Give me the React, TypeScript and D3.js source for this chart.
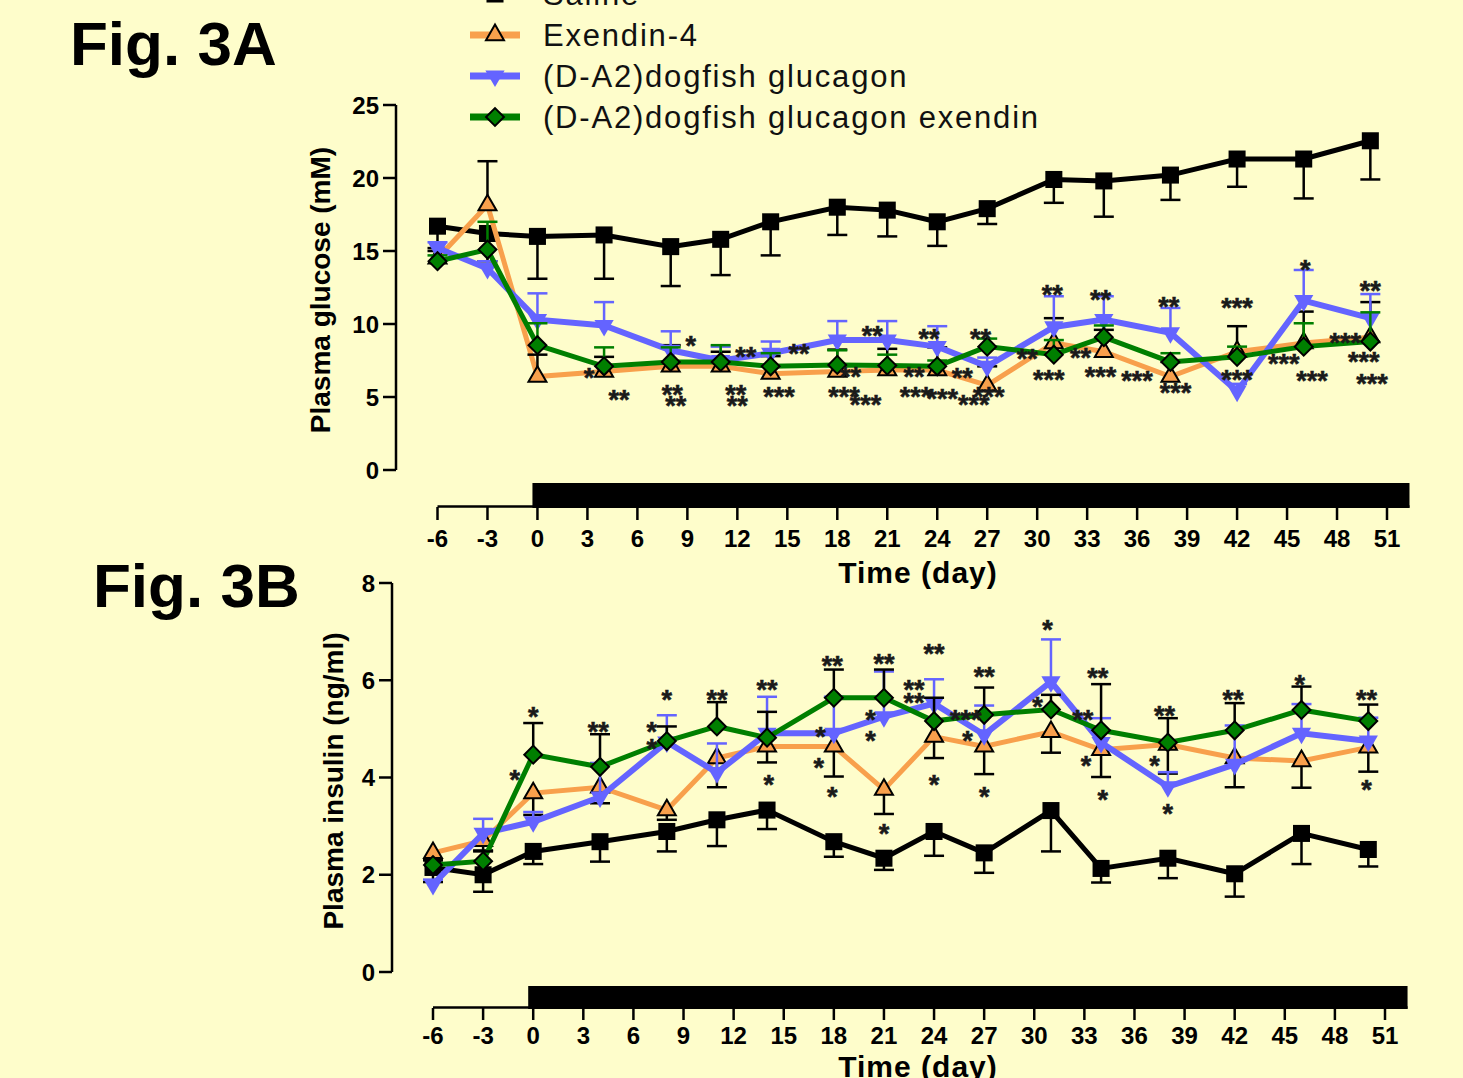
import React from "react";
import * as d3 from "d3";

// ---------------- data ----------------
const days = [-6, -3, 0, 4, 8, 11, 14, 18, 21, 24, 27, 31, 34, 38, 42, 46, 50];
const xTickValues = d3.range(-6, 52, 3);
const seriesNames = [
  "Saline",
  "Exendin-4",
  "(D-A2)dogfish glucagon",
  "(D-A2)dogfish glucagon exendin",
];
const treatmentPeriod = [-0.3, 52.35];

// Fig 3A – plasma glucose (mM)
const glucoseTicks = [0, 5, 10, 15, 20, 25];
const glucoseSaline = [16.7, 16.2, 16.0, 16.1, 15.3, 15.8, 17.0, 18.0, 17.8, 17.0, 17.9, 19.9, 19.8, 20.2, 21.3, 21.3, 22.55];
const glucoseSalineSem = [1.5, 1.9, 2.9, 3.0, 2.7, 2.45, 2.3, 1.9, 1.8, 1.65, 1.05, 1.6, 2.45, 1.7, 1.9, 2.7, 2.65];
const glucoseExendin = [14.5, 18.15, 6.4, 6.75, 7.1, 7.1, 6.6, 6.75, 6.85, 6.85, 5.8, 8.7, 8.1, 6.4, 8.1, 8.7, 9.1];
const glucoseExendinSem = [0.5, 3.0, 1.5, 1.0, 1.45, 1.0, 1.2, 1.5, 1.45, 1.55, 1.3, 1.7, 1.5, 1.0, 1.75, 2.15, 2.4];
const glucoseDogfish = [15.2, 13.8, 10.3, 9.9, 8.2, 7.5, 8.0, 8.9, 8.9, 8.45, 7.1, 9.8, 10.3, 9.4, 5.4, 11.6, 10.4];
const glucoseDogfishSem = [0.4, 0.5, 1.8, 1.6, 1.3, 0.95, 0.8, 1.3, 1.3, 1.4, 0.6, 2.1, 1.6, 1.7, 0.5, 2.1, 1.65];
const glucoseCombo = [14.3, 15.1, 8.55, 7.1, 7.4, 7.4, 7.1, 7.2, 7.15, 7.1, 8.45, 7.9, 9.1, 7.4, 7.75, 8.45, 8.8];
const glucoseComboSem = [0.4, 1.9, 1.5, 1.3, 1.0, 1.15, 0.9, 1.0, 0.75, 0.4, 0.55, 1.0, 0.8, 0.6, 0.7, 1.6, 2.0];

// significance marks: [label, day, value]
const glucoseStars: [string, number, number][] = [
  ["*", 9.2, 9.0], ["**", 12.5, 8.3], ["**", 15.7, 8.5], ["**", 20.1, 9.7], ["**", 23.5, 9.5],
  ["**", 26.6, 9.5], ["**", 30.9, 12.5], ["**", 33.8, 12.2], ["**", 37.9, 11.7], ["***", 42.0, 11.6],
  ["*", 46.1, 14.2], ["**", 50.0, 12.8],
  ["*", 3.1, 6.8], ["**", 29.4, 8.1], ["**", 32.6, 8.2], ["***", 48.5, 9.2], ["***", 44.8, 7.8],
  ["***", 49.6, 7.9], ["**", 18.8, 6.9], ["**", 22.6, 6.9], ["**", 25.5, 6.8],
  ["**", 4.9, 5.3], ["**", 8.1, 5.7], ["**", 8.3, 4.9], ["**", 11.9, 5.7], ["**", 12.0, 4.9],
  ["***", 14.5, 5.5], ["***", 18.4, 5.5], ["***", 19.7, 5.0], ["***", 22.7, 5.5], ["***", 24.3, 5.4],
  ["***", 26.2, 5.0], ["***", 27.1, 5.5], ["***", 30.7, 6.7], ["***", 33.8, 6.9], ["***", 36.0, 6.6],
  ["***", 38.3, 5.8], ["***", 42.0, 6.7], ["***", 46.5, 6.6], ["***", 50.1, 6.4],
];

// Fig 3B – plasma insulin (ng/ml)
const insulinTicks = [0, 2, 4, 6, 8];
const insulinSaline = [2.15, 2.0, 2.48, 2.68, 2.89, 3.13, 3.33, 2.68, 2.34, 2.89, 2.45, 3.32, 2.13, 2.34, 2.02, 2.85, 2.52];
const insulinSalineSem = [0.3, 0.35, 0.26, 0.41, 0.41, 0.54, 0.39, 0.31, 0.24, 0.5, 0.41, 0.84, 0.29, 0.41, 0.47, 0.63, 0.35];
const insulinExendin = [2.45, 2.7, 3.68, 3.8, 3.33, 4.4, 4.64, 4.64, 3.75, 4.84, 4.64, 4.94, 4.57, 4.68, 4.4, 4.34, 4.62];
const insulinExendinSem = [0.15, 0.2, 0.45, 0.33, 0.2, 0.6, 0.33, 0.62, 0.5, 0.44, 0.57, 0.43, 0.56, 0.6, 0.6, 0.55, 0.5];
const insulinDogfish = [1.8, 2.85, 3.09, 3.6, 4.73, 4.1, 4.91, 4.91, 5.25, 5.52, 4.88, 5.97, 4.72, 3.81, 4.27, 4.91, 4.75];
const insulinDogfishSem = [0.1, 0.3, 0.2, 0.7, 0.55, 0.6, 0.75, 0.75, 0.93, 0.5, 0.6, 0.87, 0.5, 0.3, 0.8, 0.6, 0.48];
const insulinCombo = [2.2, 2.28, 4.47, 4.22, 4.75, 5.05, 4.82, 5.64, 5.64, 5.16, 5.29, 5.4, 4.97, 4.72, 4.97, 5.39, 5.16];
const insulinComboSem = [0.1, 0.2, 0.65, 0.67, 0.3, 0.5, 0.53, 0.58, 0.58, 0.48, 0.56, 0.3, 0.95, 0.5, 0.56, 0.48, 0.34];

const insulinStars: [string, number, number][] = [
  ["*", 0.0, 5.4], ["*", -1.1, 4.1], ["**", 3.9, 5.1], ["*", 8.0, 5.75], ["*", 7.1, 5.1], ["*", 7.1, 4.75],
  ["**", 11.0, 5.75], ["**", 14.0, 5.95], ["*", 14.1, 4.0], ["**", 17.9, 6.45], ["*", 17.2, 5.0],
  ["*", 17.1, 4.35], ["*", 17.9, 3.75], ["**", 21.0, 6.5], ["*", 20.2, 5.35], ["*", 20.2, 4.9],
  ["*", 21.0, 3.0], ["**", 24.0, 6.7], ["**", 22.8, 5.95], ["**", 22.8, 5.7], ["*", 24.0, 4.0],
  ["***", 25.9, 5.35], ["**", 27.0, 6.23], ["*", 26.0, 4.9], ["*", 27.0, 3.75], ["*", 30.8, 7.2],
  ["*", 30.2, 5.6], ["**", 33.8, 6.2], ["**", 32.9, 5.35], ["*", 33.1, 4.4], ["*", 34.1, 3.7],
  ["**", 37.8, 5.43], ["*", 37.2, 4.4], ["*", 38.0, 3.4], ["**", 41.9, 5.75], ["*", 45.9, 6.07],
  ["**", 49.9, 5.75], ["*", 49.9, 3.9],
];

// ---------------- styles ----------------
const BG = "#fefdcb";
const FONT = "'Liberation Sans', Arial, Helvetica, sans-serif";
const ORANGE = "#f8a04c";
const BLUE = "#6464ff";
const GREEN = "#007f00";

type Style = { line: string; fill: string; stroke: string; shape: string; width: number };
const seriesStyles: Style[] = [
  { line: "#000", fill: "#000", stroke: "#000", shape: "square", width: 5 },
  { line: ORANGE, fill: ORANGE, stroke: "#000", shape: "triangle", width: 5 },
  { line: BLUE, fill: BLUE, stroke: BLUE, shape: "invtriangle", width: 6 },
  { line: GREEN, fill: GREEN, stroke: "#000", shape: "diamond", width: 5 },
];

function markerPath(shape: string): { d: string; rot: number } {
  if (shape === "square") return { d: d3.symbol().type(d3.symbolSquare).size(290)() as string, rot: 0 };
  if (shape === "triangle") return { d: d3.symbol().type(d3.symbolTriangle).size(140)() as string, rot: 0 };
  if (shape === "invtriangle") return { d: d3.symbol().type(d3.symbolTriangle).size(160)() as string, rot: 180 };
  return { d: d3.symbol().type(d3.symbolSquare).size(160)() as string, rot: 45 };
}

function Marker({ cx, cy, style }: { cx: number; cy: number; style: Style }) {
  const m = markerPath(style.shape);
  return (
    <path
      d={m.d}
      transform={`translate(${cx},${cy}) rotate(${m.rot})`}
      fill={style.fill}
      stroke={style.stroke}
      strokeWidth={style.shape === "square" || style.shape === "invtriangle" ? 0 : 2}
    />
  );
}

type PanelProps = {
  xRange: [number, number];
  yDomain: [number, number];
  yRange: [number, number];
  yTicks: number[];
  yAxisX: number;
  barTop: number;
  barBottom: number;
  tickBottom: number;
  tickLabelY: number;
  yTitle: string;
  yTitlePos: [number, number];
  xTitleY: number;
  values: number[][];
  sems: number[][];
  errDir: number[];
  errColor: string[];
  stars: [string, number, number][];
};

function Panel(p: PanelProps) {
  const x = d3.scaleLinear().domain([-6, 51]).range(p.xRange);
  const y = d3.scaleLinear().domain(p.yDomain).range(p.yRange);
  const line = d3
    .line<number>()
    .x((_, i) => x(days[i]))
    .y((d) => y(d));
  const axisY0 = p.barBottom - 1.5;
  return (
    <g>
      {/* y axis */}
      <line x1={p.yAxisX} x2={p.yAxisX} y1={y(p.yDomain[0])} y2={y(p.yDomain[1])} stroke="#000" strokeWidth={2.5} />
      {p.yTicks.map((t) => (
        <g key={t}>
          <line x1={p.yAxisX - 13} x2={p.yAxisX} y1={y(t)} y2={y(t)} stroke="#000" strokeWidth={2.5} />
          <text x={p.yAxisX - 17} y={y(t) + 8.5} textAnchor="end" fontFamily={FONT} fontWeight="bold" fontSize={24} fill="#000">
            {t}
          </text>
        </g>
      ))}
      <text
        transform={`translate(${p.yTitlePos[0]},${p.yTitlePos[1]}) rotate(-90)`}
        textAnchor="middle"
        dy="0.35em"
        fontFamily={FONT}
        fontWeight="bold"
        fontSize={28}
        fill="#000"
      >
        {p.yTitle}
      </text>

      {/* x axis with treatment bar */}
      <line x1={x(-6)} x2={x(treatmentPeriod[1])} y1={axisY0} y2={axisY0} stroke="#000" strokeWidth={2.5} />
      <rect
        x={x(treatmentPeriod[0])}
        y={p.barTop}
        width={x(treatmentPeriod[1]) - x(treatmentPeriod[0])}
        height={p.barBottom - p.barTop}
        fill="#000"
      />
      {xTickValues.map((t) => (
        <g key={t}>
          <line x1={x(t)} x2={x(t)} y1={p.barBottom - 1} y2={p.tickBottom} stroke="#000" strokeWidth={2.5} />
          <text x={x(t)} y={p.tickLabelY} textAnchor="middle" fontFamily={FONT} fontWeight="bold" fontSize={24} fill="#000">
            {t}
          </text>
        </g>
      ))}
      <text x={918} y={p.xTitleY} textAnchor="middle" fontFamily={FONT} fontWeight="bold" fontSize={30} letterSpacing={1} fill="#000">
        Time (day)
      </text>

      {/* series */}
      {p.values.map((vals, si) => {
        const st = seriesStyles[si];
        return (
          <g key={si}>
            <path d={line(vals) as string} fill="none" stroke={st.line} strokeWidth={st.width} strokeLinejoin="miter" />
            {vals.map((v, i) => {
              const e = v + p.errDir[si] * p.sems[si][i];
              return (
                <g key={i} stroke={p.errColor[si]} strokeWidth={2.5}>
                  <line x1={x(days[i])} x2={x(days[i])} y1={y(v)} y2={y(e)} />
                  <line x1={x(days[i]) - 10} x2={x(days[i]) + 10} y1={y(e)} y2={y(e)} />
                </g>
              );
            })}
            {vals.map((v, i) => (
              <Marker key={i} cx={x(days[i])} cy={y(v)} style={st} />
            ))}
          </g>
        );
      })}

      {/* significance marks */}
      {p.stars.map(([lab, d, v], i) => (
        <text
          key={i}
          x={x(d)}
          y={y(v)}
          dy="0.62em"
          textAnchor="middle"
          fontFamily={FONT}
          fontWeight="bold"
          fontSize={27}
          fill="#1a1a1a"
          stroke="#1a1a1a"
          strokeWidth={0.6}
        >
          {lab}
        </text>
      ))}
    </g>
  );
}

function Legend() {
  const baselines = [5, 46, 87, 128];
  return (
    <g>
      {seriesNames.map((name, i) => {
        const st = seriesStyles[i];
        const cy = baselines[i] - 11;
        return (
          <g key={name}>
            <line x1={470} x2={520} y1={cy} y2={cy} stroke={st.line} strokeWidth={7} />
            <Marker cx={495} cy={cy} style={st} />
            <text x={543} y={baselines[i]} fontFamily={FONT} fontSize={31} letterSpacing={1.8} fill="#111">
              {name}
            </text>
          </g>
        );
      })}
    </g>
  );
}

export default function App() {
  return (
    <svg
      width={1463}
      height={1078}
      style={{ position: "absolute", left: 0, top: 0, display: "block" }}
      xmlns="http://www.w3.org/2000/svg"
    >
      <rect x={0} y={0} width={1463} height={1078} fill={BG} />
      <text x={70} y={65} fontFamily={FONT} fontWeight="bold" fontSize={62} fill="#000">
        Fig. 3A
      </text>
      <text x={93} y={607} fontFamily={FONT} fontWeight="bold" fontSize={62} fill="#000">
        Fig. 3B
      </text>
      <Legend />
      <Panel
        xRange={[437.5, 1387]}
        yDomain={[0, 25]}
        yRange={[470, 105]}
        yTicks={glucoseTicks}
        yAxisX={396}
        barTop={483}
        barBottom={508}
        tickBottom={520}
        tickLabelY={547}
        yTitle="Plasma glucose (mM)"
        yTitlePos={[320, 290]}
        xTitleY={583}
        values={[glucoseSaline, glucoseExendin, glucoseDogfish, glucoseCombo]}
        sems={[glucoseSalineSem, glucoseExendinSem, glucoseDogfishSem, glucoseComboSem]}
        errDir={[-1, 1, 1, 1]}
        errColor={["#000", "#000", BLUE, GREEN]}
        stars={glucoseStars}
      />
      <Panel
        xRange={[433, 1385]}
        yDomain={[0, 8]}
        yRange={[972, 583]}
        yTicks={insulinTicks}
        yAxisX={392}
        barTop={986}
        barBottom={1009}
        tickBottom={1020}
        tickLabelY={1044}
        yTitle="Plasma insulin (ng/ml)"
        yTitlePos={[333, 781]}
        xTitleY={1077}
        values={[insulinSaline, insulinExendin, insulinDogfish, insulinCombo]}
        sems={[insulinSalineSem, insulinExendinSem, insulinDogfishSem, insulinComboSem]}
        errDir={[-1, -1, 1, 1]}
        errColor={["#000", "#000", BLUE, "#000"]}
        stars={insulinStars}
      />
    </svg>
  );
}
